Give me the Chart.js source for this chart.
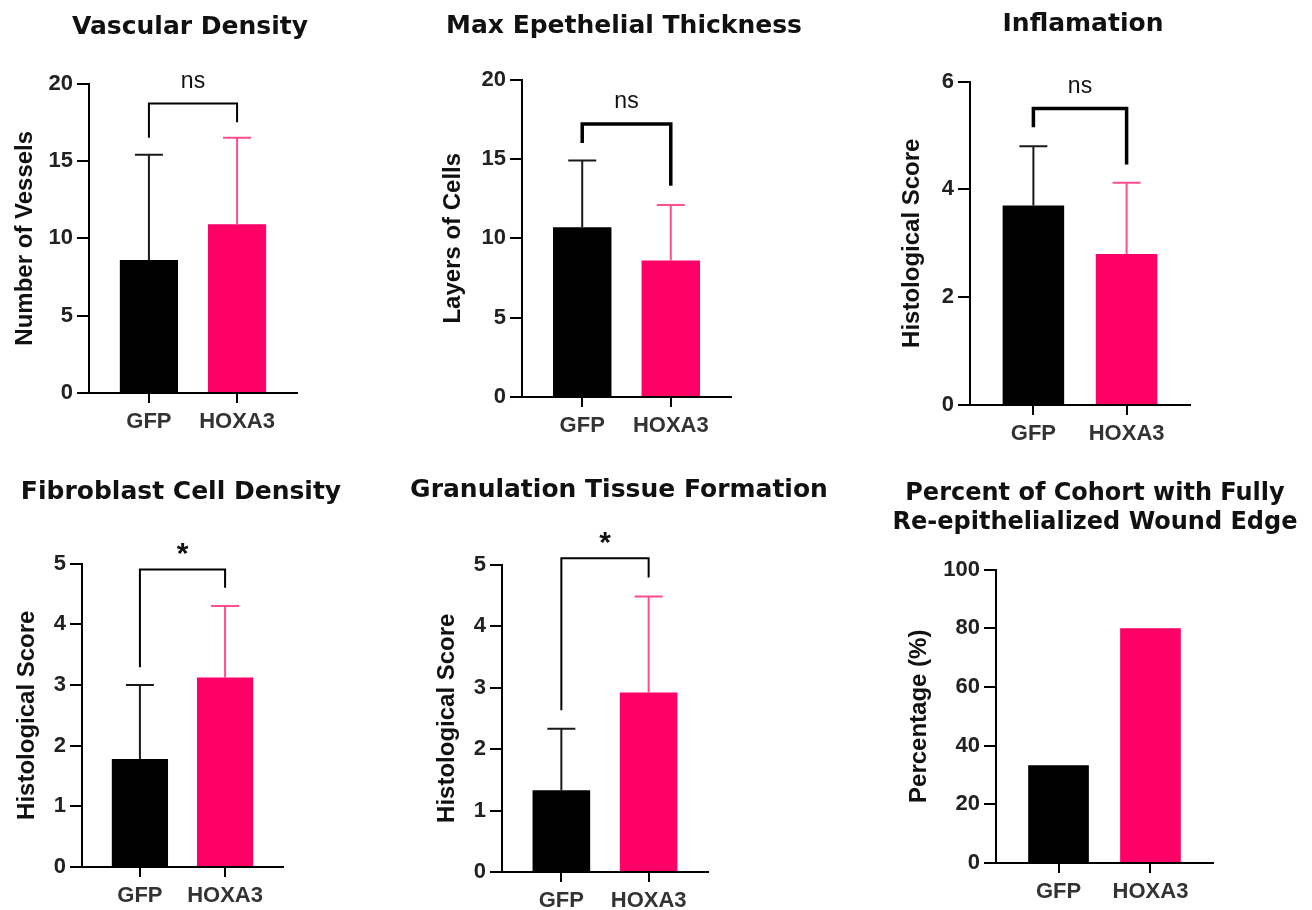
<!DOCTYPE html>
<html>
<head>
<meta charset="utf-8">
<script src="https://cdn.jsdelivr.net/npm/chart.js@4.4.0/dist/chart.umd.min.js"></script>
<style>
    html, body { margin: 0; padding: 0; background: #fff; }
    body { width: 1312px; height: 910px; position: relative; overflow: hidden; }
    canvas { position: absolute; }
</style>
</head>
<body>
<script>
// groups on the x axis
var groups = ['GFP', 'HOXA3'];

// mean and SD (upper error bar) for each panel
var vascularMean = [8.6, 10.9];
var vascularSd = [6.8, 5.6];
var thicknessMean = [10.7, 8.6];
var thicknessSd = [4.2, 3.5];
var inflamMean = [3.7, 2.8];
var inflamSd = [1.1, 1.32];
var fibroMean = [1.78, 3.12];
var fibroSd = [1.22, 1.18];
var granMean = [1.33, 2.92];
var granSd = [1.0, 1.56];
var reepiPercent = [33.3, 80];

// y ticks
var vascularTicks = [0, 5, 10, 15, 20];
var thicknessTicks = [0, 5, 10, 15, 20];
var inflamTicks = [0, 2, 4, 6];
var fibroTicks = [0, 1, 2, 3, 4, 5];
var granTicks = [0, 1, 2, 3, 4, 5];
var reepiTicks = [0, 20, 40, 60, 80, 100];

// significance: label, bracket height, leg ends (GFP, HOXA3)
var sigLabels = ['ns', 'ns', 'ns', '*', '*'];
var sigHeight = [18.7, 17.2, 5.5, 4.9, 5.1];
var sigLegEnds = [[16.5, 17.5], [16.0, 13.3], [5.15, 4.46], [3.29, 4.6], [2.63, 4.79]];

var FONT = "'Liberation Sans', Arial, sans-serif";
var TITLE_FONT = "'DejaVu Sans', 'Liberation Sans', sans-serif";
Chart.defaults.font.family = FONT;

var barColors = ['#000000', '#ff0066'];
var errColors = ['#1a1a1a', '#ff4d8f'];

var errorBars = {
    id: 'errorBars',
    afterDatasetsDraw: function (chart, args, o) {
        if (!o.sd) return;
        var meta = chart.getDatasetMeta(0);
        var ctx = chart.ctx;
        var y = chart.scales.y;
        ctx.save();
        meta.data.forEach(function (bar, i) {
            var top = y.getPixelForValue(o.mean[i] + o.sd[i]);
            ctx.strokeStyle = errColors[i];
            ctx.lineWidth = 2;
            ctx.beginPath();
            ctx.moveTo(bar.x, bar.y);
            ctx.lineTo(bar.x, top);
            ctx.moveTo(bar.x - 14, top);
            ctx.lineTo(bar.x + 14, top);
            ctx.stroke();
        });
        ctx.restore();
    }
};

var sigBracket = {
    id: 'sigBracket',
    afterDraw: function (chart, args, o) {
        if (!o.label) return;
        var meta = chart.getDatasetMeta(0);
        var ctx = chart.ctx;
        var y = chart.scales.y;
        var x0 = meta.data[0].x, x1 = meta.data[1].x;
        var yb = y.getPixelForValue(o.height);
        ctx.save();
        ctx.strokeStyle = '#000';
        ctx.lineWidth = o.width;
        ctx.beginPath();
        ctx.moveTo(x0, y.getPixelForValue(o.legs[0]));
        ctx.lineTo(x0, yb);
        ctx.lineTo(x1, yb);
        ctx.lineTo(x1, y.getPixelForValue(o.legs[1]));
        ctx.stroke();
        ctx.fillStyle = '#111';
        ctx.textAlign = 'center';
        ctx.textBaseline = 'middle';
        if (o.label === '*') {
            ctx.font = 'bold 30px ' + FONT;
            ctx.fillText(o.label, (x0 + x1) / 2, yb - 15);
        } else {
            ctx.font = '23px ' + FONT;
            ctx.fillText(o.label, (x0 + x1) / 2, yb - 22);
        }
        ctx.restore();
    }
};

// panel placement: target plot area, title centre, y-title centre
var panels = [
    { title: 'Vascular Density', yTitle: 'Number of Vessels', mean: vascularMean, sd: vascularSd, ticks: vascularTicks, sig: 0, bw: 2, ts: 25,
      L: 89, T: 83, R: 297, B: 393, tcx: 190, tcy: 27, ycx: 25 },
    { title: 'Max Epethelial Thickness', yTitle: 'Layers of Cells', mean: thicknessMean, sd: thicknessSd, ticks: thicknessTicks, sig: 1, bw: 3.5, ts: 25,
      L: 522, T: 79, R: 731, B: 397, tcx: 624, tcy: 26, ycx: 453 },
    { title: 'Inflamation', yTitle: 'Histological Score', mean: inflamMean, sd: inflamSd, ticks: inflamTicks, sig: 2, bw: 3.5, ts: 25,
      L: 970, T: 81, R: 1190, B: 405, tcx: 1083, tcy: 24, ycx: 912 },
    { title: 'Fibroblast Cell Density', yTitle: 'Histological Score', mean: fibroMean, sd: fibroSd, ticks: fibroTicks, sig: 3, bw: 2, ts: 25,
      L: 82, T: 563, R: 283, B: 867, tcx: 181, tcy: 492, ycx: 27 },
    { title: 'Granulation Tissue Formation', yTitle: 'Histological Score', mean: granMean, sd: granSd, ticks: granTicks, sig: 4, bw: 2, ts: 25,
      L: 502, T: 564, R: 708, B: 872, tcx: 619, tcy: 490, ycx: 447 },
    { title: ['Percent of Cohort with Fully', 'Re-epithelialized Wound Edge'], yTitle: 'Percentage (%)', mean: reepiPercent, sd: null, ticks: reepiTicks, sig: -1, bw: 2, ts: 24,
      L: 996, T: 569, R: 1213, B: 863, tcx: 1095, tcy: 493, ycx: 919 }
];

var lineStep = 29;
var yTitleSize = 24;
var xAxisH = 48;

panels.forEach(function (p) {
    var lines = Array.isArray(p.title) ? p.title.length : 1;
    var lh = lineStep;
    var hw = Math.max(p.tcx - (p.ycx - 16), p.R - p.tcx + 4, 225);
    var left = p.tcx - hw, width = 2 * hw;
    var top = p.tcy - lh / 2 - 4;
    var height = p.B + xAxisH + 4 - top;
    var yW = p.L - left;
    var rightW = left + width - p.R;

    var canvas = document.createElement('canvas');
    canvas.width = width;
    canvas.height = height;
    canvas.style.left = left + 'px';
    canvas.style.top = top + 'px';
    canvas.style.width = width + 'px';
    canvas.style.height = height + 'px';
    document.body.appendChild(canvas);

    var sigOpts = p.sig >= 0 ? {
        label: sigLabels[p.sig], height: sigHeight[p.sig], legs: sigLegEnds[p.sig], width: p.bw
    } : {};

    new Chart(canvas.getContext('2d'), {
        type: 'bar',
        data: {
            datasets: [{
                data: groups.map(function (g, i) { return { x: i, y: p.mean[i] }; }),
                backgroundColor: barColors,
                borderWidth: 0,
                barPercentage: 0.66,
                categoryPercentage: 1
            }]
        },
        options: {
            responsive: false,
            animation: false,
            devicePixelRatio: 1,
            layout: { padding: { left: 0, top: 0, right: 0, bottom: 4 } },
            plugins: {
                legend: { display: false },
                tooltip: { enabled: false },
                title: {
                    display: true,
                    text: p.title,
                    color: '#111',
                    font: { family: TITLE_FONT, size: p.ts, weight: 'bold', lineHeight: lh / p.ts },
                    padding: { top: 4, bottom: p.T - top - 4 - lines * lh }
                },
                errorBars: { mean: p.mean, sd: p.sd },
                sigBracket: sigOpts
            },
            scales: {
                x: {
                    type: 'linear',
                    offset: false,
                    min: -0.68,
                    max: 1.68,
                    afterBuildTicks: function (s) {
                        s.ticks = groups.map(function (g, i) { return { value: i }; });
                    },
                    afterFit: function (s) { s.height = xAxisH; },
                    ticks: {
                        autoSkip: false,
                        maxRotation: 0,
                        padding: 6,
                        color: '#333',
                        font: { size: 22, weight: 'bold' },
                        callback: function (v, i) { return groups[i]; }
                    },
                    grid: { offset: false, drawOnChartArea: false, drawTicks: true, tickLength: 10, color: '#000', lineWidth: 2 },
                    border: { color: '#000', width: 2 }
                },
                y: {
                    min: p.ticks[0],
                    max: p.ticks[p.ticks.length - 1],
                    afterBuildTicks: function (s) {
                        s.ticks = p.ticks.map(function (v) { return { value: v }; });
                    },
                    afterFit: function (s) { s.width = yW; },
                    ticks: { padding: 4, color: '#222', font: { size: 22, weight: 'bold' } },
                    grid: { drawOnChartArea: false, drawTicks: true, tickLength: 12, color: '#000', lineWidth: 2 },
                    border: { color: '#000', width: 2 },
                    title: {
                        display: true,
                        text: p.yTitle,
                        color: '#111',
                        font: { size: yTitleSize, weight: 'bold' },
                        padding: { top: Math.max(0, p.ycx - left - yTitleSize * 0.6), bottom: 0 }
                    }
                },
                // empty right-hand box that keeps the plot area where it is
                spacer: {
                    type: 'linear',
                    position: 'right',
                    ticks: { display: false },
                    grid: { display: false },
                    border: { display: false },
                    afterFit: function (s) { s.width = rightW; }
                }
            }
        },
        plugins: [errorBars, sigBracket]
    });
});
</script>
</body>
</html>
